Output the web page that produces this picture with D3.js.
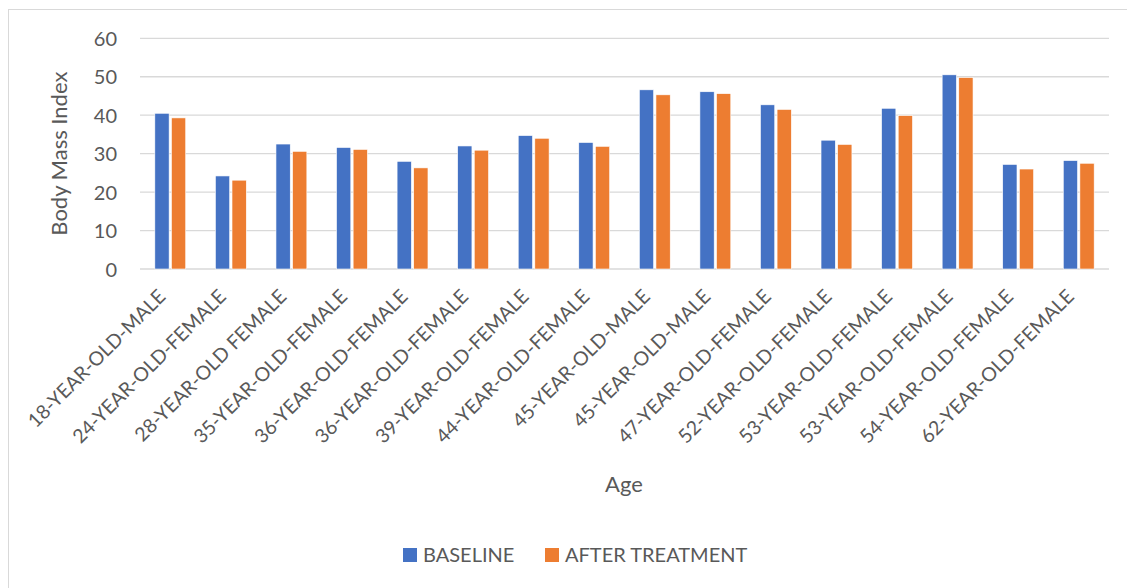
<!DOCTYPE html>
<html>
<head>
<meta charset="utf-8">
<script src="https://cdn.jsdelivr.net/npm/d3@7"></script>
<style>
  html, body { margin: 0; padding: 0; background: #fff; }
  svg { display: block; }
  text { font-family: Lato, "Open Sans", sans-serif; fill: #595959; }
</style>
</head>
<body>
<svg id="chart" width="1127" height="588"></svg>
<script>
const categories = [
  "18-YEAR-OLD-MALE", "24-YEAR-OLD-FEMALE", "28-YEAR-OLD FEMALE", "35-YEAR-OLD-FEMALE",
  "36-YEAR-OLD-FEMALE", "36-YEAR-OLD-FEMALE", "39-YEAR-OLD-FEMALE", "44-YEAR-OLD-FEMALE",
  "45-YEAR-OLD-MALE", "45-YEAR-OLD-MALE", "47-YEAR-OLD-FEMALE", "52-YEAR-OLD-FEMALE",
  "53-YEAR-OLD-FEMALE", "53-YEAR-OLD-FEMALE", "54-YEAR-OLD-FEMALE", "62-YEAR-OLD-FEMALE"
];
const baseline = [40.5, 24.2, 32.5, 31.6, 28.0, 32.0, 34.7, 32.9, 46.6, 46.1, 42.7, 33.5, 41.8, 50.5, 27.2, 28.2];
const afterTreatment = [39.3, 23.1, 30.6, 31.1, 26.3, 30.9, 34.0, 31.9, 45.3, 45.6, 41.5, 32.4, 39.9, 49.8, 26.0, 27.5];
const seriesNames = ["BASELINE", "AFTER TREATMENT"];
const yTicks = [0, 10, 20, 30, 40, 50, 60];
const yTitle = "Body Mass Index";
const xTitle = "Age";

const colors = ["#4472C4", "#ED7D31"];
const svg = d3.select("#chart");

// chart frame (cropped on right/bottom)
svg.append("rect").attr("x", 8.5).attr("y", 9.5).attr("width", 1130).attr("height", 600)
  .attr("fill", "none").attr("stroke", "#d9d9d9").attr("stroke-width", 1);

const plot = { left: 140, right: 1109, top: 38.3, bottom: 269 };

const x0 = d3.scaleBand().domain(d3.range(categories.length))
  .range([plot.left, plot.right]).paddingInner(0.49).paddingOuter(0.245);
const x1 = d3.scaleBand().domain(d3.range(seriesNames.length))
  .range([0, x0.bandwidth()]).paddingInner(0.14);
const y = d3.scaleLinear().domain([0, 60]).range([plot.bottom, plot.top]);

// gridlines
svg.append("g").selectAll("line").data(yTicks).join("line")
  .attr("x1", plot.left).attr("x2", plot.right)
  .attr("y1", d => y(d)).attr("y2", d => y(d))
  .attr("stroke", "#d9d9d9").attr("stroke-width", 1.3);

// y axis labels
const yAxis = d3.axisLeft(y).tickValues(yTicks).tickSize(0).tickPadding(0);
const gy = svg.append("g").attr("transform", `translate(${117},0)`).call(yAxis);
gy.select(".domain").remove();
gy.selectAll("text").style("font-size", "20px").attr("fill", "#595959")
  .style("font-family", "Lato, 'Open Sans', sans-serif").attr("dy", "0.36em");

// bars
const series = [baseline, afterTreatment];
const groups = svg.append("g").selectAll("g").data(categories.map((c, i) => i)).join("g")
  .attr("transform", i => `translate(${x0(i)},0)`);
groups.selectAll("rect").data(i => series.map((s, k) => ({ k, v: s[i] }))).join("rect")
  .attr("x", d => x1(d.k)).attr("width", x1.bandwidth())
  .attr("y", d => y(d.v)).attr("height", d => y(0) - y(d.v))
  .attr("fill", d => colors[d.k]).attr("stroke", "#fff").attr("stroke-width", 0.6);

// x axis category labels
const xAxis = d3.axisBottom(x0).tickFormat(i => categories[i]).tickSize(0).tickPadding(0);
const gx = svg.append("g").attr("transform", `translate(0,${plot.bottom})`).call(xAxis);
gx.select(".domain").remove();
gx.selectAll("text")
  .style("font-size", "19.5px").style("font-family", "Lato, 'Open Sans', sans-serif")
  .attr("fill", "#595959")
  .attr("text-anchor", "end")
  .attr("transform", "translate(-16,22) rotate(-45)")
  .attr("dy", "0.7em").attr("dx", "0.2em").attr("y", 0);

// axis titles
svg.append("text").attr("transform", `translate(67,${(plot.top + plot.bottom) / 2}) rotate(-90)`)
  .attr("text-anchor", "middle").style("font-size", "22px").text(yTitle);
svg.append("text").attr("x", 624).attr("y", 492).attr("text-anchor", "middle")
  .style("font-size", "22px").text(xTitle);

// legend
const legendX = [403, 545];
const leg = svg.append("g");
seriesNames.forEach((n, k) => {
  leg.append("rect").attr("x", legendX[k]).attr("y", 548).attr("width", 14).attr("height", 14).attr("fill", colors[k]);
  leg.append("text").attr("x", legendX[k] + 20).attr("y", 562).style("font-size", "20px").text(n);
});
</script>
</body>
</html>
